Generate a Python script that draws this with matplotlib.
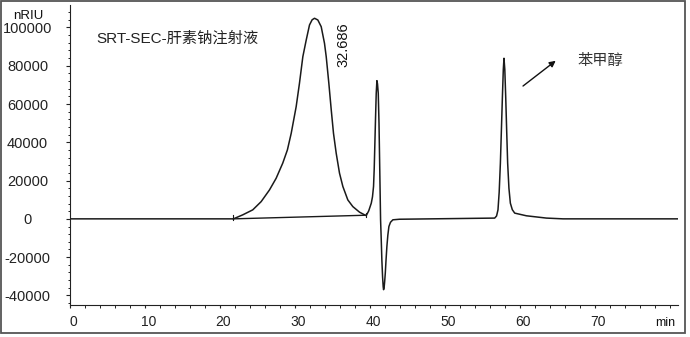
import matplotlib
matplotlib.use("Agg")
import matplotlib.pyplot as plt
import matplotlib.transforms as mtransforms
from matplotlib.patches import Rectangle
from matplotlib.ticker import MultipleLocator

# chromatogram trace (min, nRIU)
time_min = [0.0, 21.8, 23.05, 24.38, 25.5, 26.61, 27.5, 28.38, 29.0, 29.51, 30.17, 30.61,
            31.06, 31.51, 31.95, 32.3, 32.62, 33.06, 33.51, 33.95, 34.18, 34.53, 34.85,
            35.15, 35.51, 35.95, 36.40, 37.06, 37.73, 38.62, 39.29, 39.52,
            39.85, 40.19, 40.35, 40.49, 40.58, 40.67, 40.76, 40.85, 40.94, 41.02, 41.12,
            41.22, 41.30, 41.43, 41.52, 41.60, 41.70, 41.78, 41.83, 41.90, 41.97, 42.06,
            42.15, 42.27, 42.40, 42.54, 42.75, 43.07, 43.96, 56.65, 56.9, 57.09, 57.25,
            57.41, 57.55, 57.68, 57.8, 57.89, 58.0, 58.12, 58.25, 58.38, 58.55, 58.74,
            59.0, 59.32, 60.88, 63.55, 65.77, 81.0]
signal = [0, 0, 2100, 4700, 9000, 15100, 21200, 29100, 36000, 44700, 58600, 70800,
          84700, 93400, 101300, 104000, 104800, 103900, 100400, 91700, 84700, 70800, 56900,
          44700, 34300, 23900, 16900, 9900, 6400, 3500, 2100, 1700,
          4200, 8200, 11500, 16900, 26000, 39500, 53000, 65600, 72200, 70500, 65600,
          50000, 30800, -500, -11000, -21400, -30500, -35500, -37000, -36000, -33000, -28300,
          -22000, -14500, -8500, -4000, -1800, -500, -200, 400, 1500, 4700, 14000,
          29100, 47000, 63800, 78000, 83900, 78000, 63800, 46000, 29100, 16000, 8200,
          4800, 3000, 1600, 400, 0, 0]

# integration baseline under the main peak
base_t = [21.8, 39.52]
base_v = [0, 1900]

x_ticks = [0, 10, 20, 30, 40, 50, 60, 70]
y_ticks = [-40000, -20000, 0, 20000, 40000, 60000, 80000, 100000]

peak_rt = "32.686"
title = "SRT-SEC-肝素钠注射液"
marker_label = "苯甲醇"

fig = plt.figure(figsize=(6.9, 3.37), dpi=100)
ax = fig.add_axes([0.1014, 0.095, 0.8812, 0.89])

ax.plot(time_min, signal, color="#1a1a1a", lw=1.1)
ax.plot(base_t, base_v, color="#1a1a1a", lw=1.0)
ax.plot([base_t[0], base_t[0]], [-500, 2100], color="#1a1a1a", lw=0.8)
ax.plot([base_t[1], base_t[1]], [900, 3000], color="#1a1a1a", lw=0.8)

ax.set_xlim(0, 81.1)
ax.set_ylim(-45000, 111700)

for s in ["top", "right"]:
    ax.spines[s].set_visible(False)
for s in ["left", "bottom"]:
    ax.spines[s].set_linewidth(0.8)
    ax.spines[s].set_color("#222222")

ax.set_xticks(x_ticks)
ax.set_xticklabels([str(v) for v in x_ticks])
ax.xaxis.set_minor_locator(MultipleLocator(2))
ax.set_yticks(y_ticks)
ax.set_yticklabels([str(v) for v in y_ticks])
ax.yaxis.set_minor_locator(MultipleLocator(4000))

ax.tick_params(axis="x", which="major", length=2.5, width=0.8, pad=5, labelsize=10, colors="#222222")
ax.tick_params(axis="x", which="minor", length=2.2, width=0.7, colors="#222222")
ax.tick_params(axis="y", which="major", length=3.0, width=0.8, pad=27.5, labelsize=10.5, colors="#222222")
ax.tick_params(axis="y", which="minor", length=1.8, width=0.7, colors="#222222")
for lab in ax.get_yticklabels():
    lab.set_horizontalalignment("center")
    lab.set_family("Liberation Sans")
shift = mtransforms.ScaledTranslation(3.5 / 100, 0, fig.dpi_scale_trans)
for lab in ax.get_xticklabels():
    lab.set_transform(lab.get_transform() + shift)
    lab.set_family("Liberation Sans")

fonts = ["Liberation Sans", "Noto Sans CJK SC"]
ax.text(3.5, 94200, title, fontsize=11, family=fonts, color="#222222", va="center", ha="left")
ax.text(36.5, 91100, peak_rt, fontsize=10.5, family=fonts, color="#111111",
        rotation=90, ha="center", va="center")
ax.text(67.7, 82500, marker_label, fontsize=11, family=fonts, color="#333333", va="center", ha="left")
ax.annotate("", xy=(64.79, 82600), xytext=(60.43, 69400),
            arrowprops=dict(arrowstyle="-|>", color="#111111", lw=1.0, mutation_scale=9,
                            shrinkA=0, shrinkB=0))

fig.text(28 / 690, 1 - 16 / 337, "nRIU", fontsize=9.5, family=fonts, color="#111111", ha="center", va="center")
fig.text(665 / 690, 1 - 322.5 / 337, "min", fontsize=9, family=fonts, color="#111111", ha="center", va="center")

# grey frame around the whole picture
fig.patches.append(Rectangle((1 / 690, 4 / 337), 684 / 690, 332 / 337, transform=fig.transFigure,
                             fill=False, edgecolor="#555555", lw=1.3))

fig.savefig("out.png", dpi=100, facecolor="white")
